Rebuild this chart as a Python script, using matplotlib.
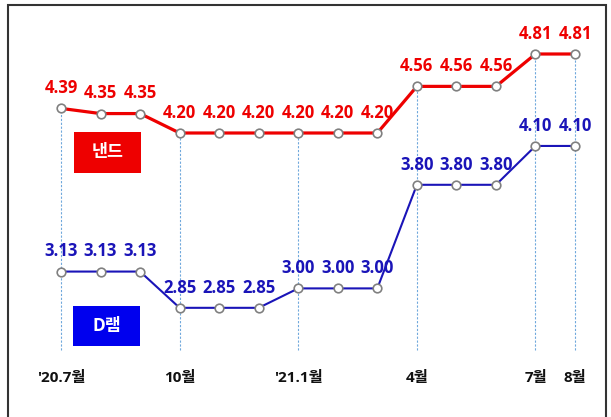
import matplotlib.pyplot as plt
from matplotlib.patches import Rectangle

plt.rcParams['font.family'] = ['Open Sans', 'Noto Sans CJK KR', 'DejaVu Sans']

# monthly contract prices, Jul 2020 - Aug 2021
months = ["'20.7월", "", "", "10월", "", "", "'21.1월", "", "", "4월", "", "", "7월", "8월"]
nand = [4.39, 4.35, 4.35, 4.20, 4.20, 4.20, 4.20, 4.20, 4.20, 4.56, 4.56, 4.56, 4.81, 4.81]
dram = [3.13, 3.13, 3.13, 2.85, 2.85, 2.85, 3.00, 3.00, 3.00, 3.80, 3.80, 3.80, 4.10, 4.10]

W, H = 611, 417
fig = plt.figure(figsize=(W / 100, H / 100), dpi=100)
ax = fig.add_axes([0, 0, 1, 1])
ax.axis('off')

# pixel layout -> data limits
x0px, dx = 61, 39.54
y0px, dy = 133, 129.5
ax.set_xlim(-x0px / dx, (W - x0px) / dx)
ax.set_ylim(4.20 - (H - y0px) / dy, 4.20 + y0px / dy)

xs = list(range(len(months)))

# dotted guides under labelled months
y_bottom = 4.20 - (350 - y0px) / dy
for i, m in enumerate(months):
    if m:
        ax.vlines(i, y_bottom, nand[i], colors='#6fa8dc', linestyles=(0, (2, 1.5)), lw=0.8, zorder=1)
        ax.text(i, 4.20 - (378 - y0px) / dy, m, ha='center', va='center',
                fontsize=11, fontweight='bold', color='#111111')

ax.plot(xs, nand, color='#ee0000', lw=2.3, zorder=2)
ax.plot(xs, dram, color='#1a14b8', lw=1.5, zorder=2)
ax.plot(xs, nand, 'o', ms=6.2, mfc='white', mec='#808080', mew=1.2, zorder=3)
ax.plot(xs, dram, 'o', ms=6.2, mfc='white', mec='#808080', mew=1.2, zorder=3)

for i in xs:
    ax.annotate(f'{nand[i]:.2f}', (i, nand[i]), xytext=(0, 14.5), textcoords='offset points',
                ha='center', va='center', fontsize=12, fontweight='bold', color='#ee0000', zorder=4)
    ax.annotate(f'{dram[i]:.2f}', (i, dram[i]), xytext=(0, 14.5), textcoords='offset points',
                ha='center', va='center', fontsize=12, fontweight='bold', color='#1a14b8', zorder=4)

# name boxes
def name_box(left, top, w, h, color, label):
    fx, fy = left / W, 1 - (top + h) / H
    fig.add_artist(Rectangle((fx, fy), w / W, h / H, transform=fig.transFigure,
                             facecolor=color, edgecolor='none'))
    fig.text(fx + w / W / 2, fy + h / H / 2, label, ha='center', va='center',
             fontsize=12.5, fontweight='bold', color='white')

name_box(74, 132, 67, 41, '#ee0000', '낸드')
name_box(73, 306, 67, 40, '#0000ee', 'D램')

# outer frame
fig.add_artist(Rectangle((8 / W, -0.02), (606 - 8) / W, 1.02 - 5 / H, transform=fig.transFigure,
                         facecolor='none', edgecolor='#333333', lw=1.5))

fig.savefig('out.png', dpi=100)
